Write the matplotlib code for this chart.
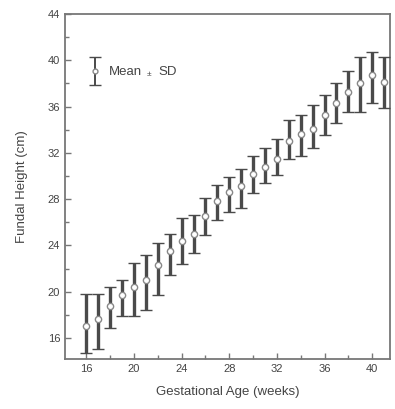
import matplotlib
matplotlib.use("Agg")
import matplotlib.pyplot as plt
from matplotlib.ticker import MultipleLocator
import numpy as np

weeks = list(range(16, 42))
means = [17.0, 17.6, 18.8, 19.7, 20.4, 21.0, 22.3, 23.5, 24.4, 25.0, 26.5, 27.8, 28.6,
         29.1, 30.2, 30.8, 31.5, 33.0, 33.6, 34.1, 35.3, 36.3, 37.3, 38.0, 38.7, 38.1]
upper = [19.8, 19.8, 20.4, 21.0, 22.5, 23.2, 24.2, 25.0, 26.4, 26.6, 28.1, 29.2, 29.9,
         30.6, 31.7, 32.4, 33.2, 34.8, 35.3, 36.1, 37.0, 38.0, 39.1, 40.3, 40.7, 40.3]
lower = [14.7, 15.05, 16.9, 17.9, 17.9, 18.4, 19.7, 21.4, 22.4, 23.3, 24.9, 26.2, 26.9,
         27.2, 28.5, 29.4, 30.1, 31.5, 31.7, 32.4, 33.5, 34.6, 35.5, 35.5, 36.3, 35.9]
xticks = [16, 20, 24, 28, 32, 36, 40]
yticks = [16, 20, 24, 28, 32, 36, 40, 44]

plt.rcParams['font.family'] = ['Liberation Sans', 'DejaVu Sans']
fig = plt.figure(figsize=(3.95, 4.09), dpi=100)
ax = fig.add_axes([65/395, 1-359/409, (390-65)/395, (359-14)/409])

m = np.array(means)
yerr = [m - np.array(lower), np.array(upper) - m]
bar_col = '#4a4a4a'
ax.errorbar(weeks, means, yerr=yerr, fmt='o', color=bar_col, ecolor=bar_col,
            elinewidth=2.4, capsize=4.5, capthick=1.8, markersize=4.5,
            markerfacecolor='white', markeredgecolor='#888888', markeredgewidth=1.0,
            zorder=3)

ax.set_xlim(14.2, 41.5)
ax.set_ylim(14.18, 44)
ax.set_xticks(xticks)
ax.set_yticks(yticks)
ax.xaxis.set_minor_locator(MultipleLocator(2))
ax.yaxis.set_minor_locator(MultipleLocator(2))
ax.tick_params(which='both', direction='in', colors='#777777', labelcolor='#444444',
               labelsize=8, width=1.0)
ax.tick_params(which='major', length=4)
ax.tick_params(which='minor', length=3)
for s in ax.spines.values():
    s.set_color('#777777')
    s.set_linewidth(1.3)

ax.set_xlabel('Gestational Age (weeks)', fontsize=9.5, color='#444444', labelpad=9)
ax.set_ylabel('Fundal Height (cm)', fontsize=9.5, color='#444444', labelpad=14)

# legend glyph
lx, ly = 16.7, 39.1
ax.errorbar([lx], [ly], yerr=[[1.25], [1.2]], fmt='o', color=bar_col, ecolor=bar_col,
            elinewidth=1.4, capsize=4.5, capthick=1.4, markersize=3.5,
            markerfacecolor='white', markeredgecolor='#888888', markeredgewidth=1.0)
ax.annotate('Mean', xy=(109, 409 - 72), xycoords='figure pixels', fontsize=9.5,
            color='#444444', va='center', ha='left')
ax.annotate('±', xy=(147, 409 - 75), xycoords='figure pixels', fontsize=6,
            color='#444444', va='center', ha='left')
ax.annotate('SD', xy=(158, 409 - 72), xycoords='figure pixels', fontsize=9.5,
            color='#444444', va='center', ha='left')

fig.savefig('out.png', dpi=100)
